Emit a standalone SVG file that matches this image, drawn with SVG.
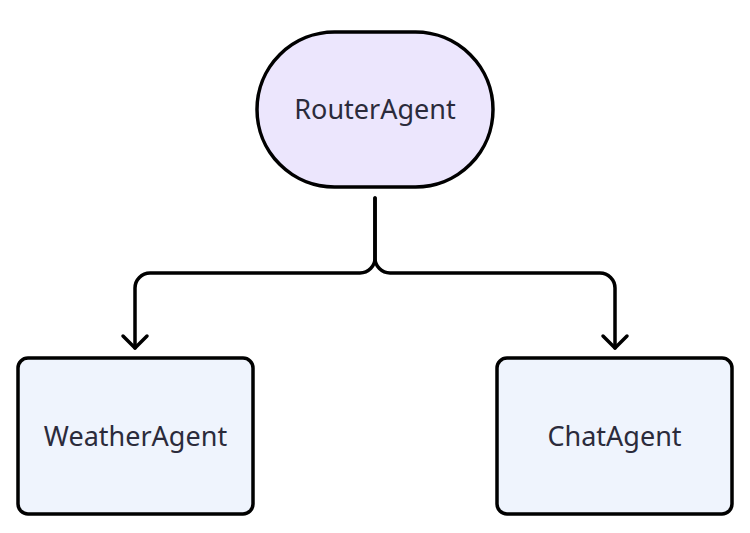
<svg xmlns="http://www.w3.org/2000/svg" width="750" height="533" viewBox="0 0 750 533">
<defs>
<style>
.node{stroke:#000;stroke-width:3.5}
.router{fill:#ECE6FD}
.leaf{fill:#EFF4FD}
.label{font-family:"Noto Sans","Open Sans",sans-serif;font-size:27px;fill:#2B2B3B;text-anchor:middle}
.edge{fill:none;stroke:#000;stroke-width:3.5;stroke-linecap:round;stroke-linejoin:round}
</style>
</defs>
<rect width="750" height="533" fill="#fff"/>
<g id="connectors">
<path class="edge" d="M375,198 V258 A15,15 0 0 1 360,273 H150 A15,15 0 0 0 135,288 V348"/>
<path class="edge" d="M375,198 V258 A15,15 0 0 0 390,273 H600 A15,15 0 0 1 615,288 V348"/>
<path d="M123,336 L135,348 L147,336" class="edge"/>
<path d="M603,336 L615,348 L627,336" class="edge"/>
</g>
<g id="RouterAgent">
<rect class="node router" x="257" y="32" width="236" height="155" rx="77.5" ry="77.5"/>
<text class="label" x="375" y="119">RouterAgent</text>
</g>
<g id="WeatherAgent">
<rect class="node leaf" x="18" y="358" width="235" height="156" rx="10" ry="10"/>
<text class="label" x="135.5" y="446">WeatherAgent</text>
</g>
<g id="ChatAgent">
<rect class="node leaf" x="497" y="358" width="235" height="156" rx="10" ry="10"/>
<text class="label" x="614.5" y="446">ChatAgent</text>
</g>
</svg>
